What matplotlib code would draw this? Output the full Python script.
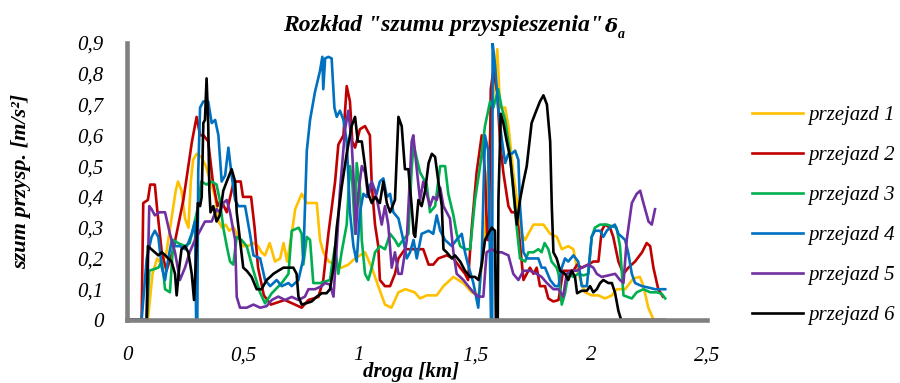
import matplotlib
matplotlib.use("Agg")
import matplotlib.pyplot as plt
from matplotlib.ticker import FixedLocator

plt.rcParams['font.family'] = ['Liberation Serif', 'DejaVu Serif']

title_main = 'Rozkład "szumu przyspieszenia"'
title_sym = 'δ'
title_sub = 'a'
xlabel = 'droga [km]'
ylabel = 'szum przysp. [m/s²]'
labels = ['przejazd 1', 'przejazd 2', 'przejazd 3', 'przejazd 4', 'przejazd 5', 'przejazd 6']
colors = ['#FFC000', '#C00000', '#00B050', '#0070C0', '#7030A0', '#000000']
xticks = [0, 0.5, 1, 1.5, 2, 2.5]
xticklabels = ['0', '0,5', '1', '1,5', '2', '2,5']
yticks = [0, 0.1, 0.2, 0.3, 0.4, 0.5, 0.6, 0.7, 0.8, 0.9]
yticklabels = ['0', '0,1', '0,2', '0,3', '0,4', '0,5', '0,6', '0,7', '0,8', '0,9']

x1 = [0, 0.09, 0.11, 0.13, 0.15, 0.17, 0.19, 0.21, 0.22, 0.235, 0.25, 0.265, 0.275, 0.285, 0.3, 0.32, 0.34, 0.36, 0.38, 0.395, 0.41, 0.425, 0.44, 0.46, 0.48, 0.5, 0.52, 0.545, 0.565, 0.58, 0.595, 0.615, 0.638, 0.66, 0.675, 0.69, 0.71, 0.725, 0.753, 0.775, 0.8, 0.818, 0.832, 0.846, 0.87, 0.925, 0.954, 0.983, 1.026, 1.055, 1.083, 1.112, 1.14, 1.17, 1.2, 1.24, 1.263, 1.292, 1.335, 1.364, 1.407, 1.45, 1.486, 1.515, 1.54, 1.565, 1.596, 1.608, 1.63, 1.644, 1.665, 1.687, 1.7, 1.716, 1.73, 1.752, 1.795, 1.824, 1.853, 1.874, 1.902, 1.924, 1.945, 1.974, 2.003, 2.032, 2.06, 2.09, 2.11, 2.147, 2.183, 2.211, 2.226, 2.247, 2.27, 2.28]
y1 = [0, 0, 0.15, 0.2, 0.18, 0.22, 0.32, 0.42, 0.45, 0.42, 0.33, 0.3, 0.45, 0.52, 0.54, 0.53, 0.5, 0.45, 0.4, 0.32, 0.3, 0.31, 0.29, 0.3, 0.27, 0.24, 0.24, 0.25, 0.24, 0.22, 0.21, 0.25, 0.19, 0.2, 0.25, 0.19, 0.28, 0.36, 0.41, 0.38, 0.38, 0.38, 0.26, 0.22, 0.19, 0.17, 0.18, 0.2, 0.22, 0.17, 0.11, 0.05, 0.04, 0.09, 0.1, 0.09, 0.07, 0.08, 0.08, 0.11, 0.14, 0.12, 0.09, 0.08, 0.25, 0.6, 0.88, 0.69, 0.69, 0.63, 0.48, 0.35, 0.28, 0.26, 0.28, 0.31, 0.31, 0.28, 0.27, 0.23, 0.24, 0.23, 0.15, 0.09, 0.08, 0.08, 0.07, 0.08, 0.1, 0.1, 0.135, 0.14, 0.11, 0.04, 0.0, 0.0]

x2 = [0, 0.063, 0.07, 0.09, 0.1, 0.12, 0.13, 0.15, 0.17, 0.2, 0.243, 0.28, 0.3, 0.315, 0.33, 0.35, 0.37, 0.39, 0.405, 0.43, 0.46, 0.49, 0.5, 0.535, 0.55, 0.565, 0.59, 0.62, 0.68, 0.724, 0.753, 0.782, 0.825, 0.846, 0.868, 0.897, 0.911, 0.933, 0.947, 0.961, 0.971, 0.983, 1.004, 1.026, 1.047, 1.055, 1.069, 1.083, 1.09, 1.112, 1.134, 1.155, 1.17, 1.198, 1.22, 1.249, 1.277, 1.3, 1.32, 1.342, 1.378, 1.407, 1.436, 1.457, 1.47, 1.486, 1.507, 1.529, 1.543, 1.553, 1.56, 1.568, 1.579, 1.596, 1.608, 1.622, 1.644, 1.658, 1.673, 1.687, 1.709, 1.723, 1.737, 1.752, 1.766, 1.78, 1.802, 1.816, 1.838, 1.86, 1.88, 1.924, 1.94, 1.96, 1.989, 2.01, 2.032, 2.046, 2.06, 2.082, 2.096, 2.118, 2.14, 2.161, 2.19, 2.22, 2.24, 2.255, 2.269, 2.29, 2.31]
y2 = [0, 0, 0.38, 0.39, 0.44, 0.44, 0.36, 0.22, 0.16, 0.23, 0.39, 0.58, 0.66, 0.6, 0.6, 0.58, 0.45, 0.37, 0.39, 0.35, 0.45, 0.45, 0.4, 0.4, 0.3, 0.17, 0.08, 0.05, 0.065, 0.05, 0.04, 0.065, 0.075, 0.13, 0.28, 0.45, 0.57, 0.6, 0.76, 0.71, 0.58, 0.56, 0.62, 0.63, 0.6, 0.44, 0.31, 0.24, 0.13, 0.11, 0.11, 0.15, 0.2, 0.23, 0.23, 0.23, 0.23, 0.18, 0.18, 0.2, 0.21, 0.2, 0.17, 0.15, 0.13, 0.3, 0.48, 0.6, 0.48, 0.26, 0.26, 0.75, 0.81, 0.74, 0.58, 0.48, 0.37, 0.35, 0.35, 0.3, 0.13, 0.15, 0.17, 0.15, 0.17, 0.11, 0.11, 0.07, 0.06, 0.065, 0.16, 0.16, 0.18, 0.17, 0.18, 0.19, 0.19, 0.29, 0.31, 0.3, 0.27, 0.19, 0.15, 0.17, 0.19, 0.22, 0.25, 0.24, 0.17, 0.1, 0.076]

x3 = [0, 0.085, 0.096, 0.115, 0.135, 0.15, 0.157, 0.164, 0.185, 0.2, 0.22, 0.25, 0.27, 0.286, 0.307, 0.32, 0.343, 0.365, 0.386, 0.4, 0.415, 0.43, 0.444, 0.458, 0.473, 0.494, 0.516, 0.545, 0.573, 0.595, 0.624, 0.667, 0.696, 0.71, 0.74, 0.753, 0.76, 0.775, 0.789, 0.803, 0.832, 0.875, 0.882, 0.897, 0.911, 0.925, 0.947, 0.961, 0.971, 0.983, 0.99, 1.004, 1.012, 1.026, 1.04, 1.055, 1.069, 1.09, 1.112, 1.134, 1.155, 1.17, 1.19, 1.213, 1.227, 1.235, 1.263, 1.292, 1.306, 1.328, 1.35, 1.371, 1.385, 1.407, 1.421, 1.436, 1.457, 1.479, 1.5, 1.522, 1.543, 1.565, 1.579, 1.6, 1.615, 1.63, 1.651, 1.665, 1.68, 1.694, 1.716, 1.73, 1.752, 1.773, 1.787, 1.8, 1.816, 1.83, 1.852, 1.86, 1.874, 1.888, 1.902, 1.924, 1.945, 1.967, 1.989, 2.003, 2.017, 2.039, 2.068, 2.11, 2.125, 2.14, 2.154, 2.176, 2.197, 2.226, 2.255, 2.284, 2.305, 2.32]
y3 = [0, 0, 0.16, 0.165, 0.17, 0.19, 0.15, 0.1, 0.09, 0.26, 0.25, 0.24, 0.25, 0.3, 0.37, 0.45, 0.44, 0.45, 0.44, 0.39, 0.3, 0.24, 0.19, 0.18, 0.27, 0.26, 0.24, 0.16, 0.09, 0.054, 0.087, 0.12, 0.15, 0.29, 0.3, 0.28, 0.18, 0.27, 0.26, 0.12, 0.12, 0.13, 0.17, 0.24, 0.15, 0.22, 0.31, 0.5, 0.45, 0.28, 0.51, 0.43, 0.26, 0.15, 0.13, 0.17, 0.22, 0.24, 0.23, 0.28, 0.26, 0.24, 0.26, 0.28, 0.49, 0.57, 0.48, 0.44, 0.35, 0.37, 0.5, 0.5, 0.41, 0.34, 0.28, 0.24, 0.23, 0.23, 0.39, 0.5, 0.63, 0.71, 0.69, 0.75, 0.69, 0.65, 0.54, 0.42, 0.3, 0.2, 0.19, 0.22, 0.22, 0.23, 0.22, 0.25, 0.23, 0.19, 0.17, 0.15, 0.05, 0.087, 0.15, 0.14, 0.15, 0.145, 0.15, 0.27, 0.3, 0.31, 0.31, 0.3, 0.24, 0.08, 0.076, 0.07, 0.09, 0.1, 0.09, 0.09, 0.085, 0.07]

x4 = [0, 0.063, 0.085, 0.106, 0.12, 0.135, 0.15, 0.164, 0.178, 0.193, 0.207, 0.228, 0.25, 0.264, 0.279, 0.293, 0.298, 0.303, 0.307, 0.315, 0.329, 0.35, 0.365, 0.38, 0.394, 0.408, 0.423, 0.437, 0.451, 0.466, 0.48, 0.509, 0.53, 0.545, 0.574, 0.595, 0.617, 0.645, 0.667, 0.696, 0.71, 0.739, 0.76, 0.775, 0.789, 0.81, 0.832, 0.842, 0.846, 0.854, 0.868, 0.882, 0.894, 0.904, 0.918, 0.933, 0.947, 0.961, 0.976, 0.99, 1.004, 1.019, 1.033, 1.047, 1.062, 1.076, 1.09, 1.105, 1.12, 1.134, 1.148, 1.17, 1.191, 1.206, 1.22, 1.235, 1.249, 1.27, 1.3, 1.32, 1.335, 1.35, 1.371, 1.4, 1.42, 1.443, 1.457, 1.47, 1.493, 1.514, 1.529, 1.543, 1.557, 1.569, 1.574, 1.576, 1.586, 1.6, 1.615, 1.63, 1.644, 1.658, 1.673, 1.687, 1.694, 1.709, 1.724, 1.752, 1.773, 1.787, 1.802, 1.824, 1.845, 1.86, 1.874, 1.888, 1.902, 1.924, 1.945, 1.96, 1.982, 2.003, 2.017, 2.039, 2.053, 2.068, 2.082, 2.103, 2.118, 2.133, 2.147, 2.16, 2.176, 2.19, 2.22, 2.25, 2.276, 2.3, 2.32]
y4 = [0, 0, 0.2, 0.27, 0.29, 0.27, 0.17, 0.13, 0.2, 0.26, 0.24, 0.24, 0.23, 0.25, 0.28, 0.32, 0.0, 0.0, 0.48, 0.69, 0.71, 0.71, 0.64, 0.65, 0.6, 0.45, 0.47, 0.56, 0.47, 0.39, 0.37, 0.37, 0.28, 0.21, 0.2, 0.13, 0.11, 0.13, 0.11, 0.12, 0.11, 0.13, 0.2, 0.55, 0.65, 0.74, 0.81, 0.855, 0.75, 0.85, 0.855, 0.85, 0.69, 0.66, 0.68, 0.65, 0.58, 0.35, 0.24, 0.19, 0.35, 0.41, 0.4, 0.44, 0.43, 0.41, 0.45, 0.46, 0.4, 0.41, 0.35, 0.33, 0.26, 0.2, 0.22, 0.26, 0.2, 0.28, 0.29, 0.28, 0.34, 0.29, 0.26, 0.24, 0.26, 0.28, 0.22, 0.18, 0.12, 0.04, 0.2, 0.6, 0.55, 0.0, 0.0, 0.9, 0.83, 0.69, 0.59, 0.51, 0.54, 0.54, 0.55, 0.52, 0.37, 0.22, 0.2, 0.2, 0.2, 0.17, 0.17, 0.13, 0.11, 0.11, 0.17, 0.2, 0.19, 0.21, 0.19, 0.11, 0.11, 0.27, 0.29, 0.29, 0.27, 0.29, 0.3, 0.31, 0.28, 0.27, 0.26, 0.22, 0.15, 0.12, 0.11, 0.105, 0.1, 0.1, 0.1]

x5 = [0, 0.085, 0.096, 0.106, 0.12, 0.14, 0.164, 0.185, 0.207, 0.228, 0.25, 0.27, 0.293, 0.315, 0.336, 0.365, 0.386, 0.4, 0.415, 0.43, 0.444, 0.466, 0.473, 0.487, 0.516, 0.545, 0.574, 0.602, 0.624, 0.652, 0.681, 0.71, 0.739, 0.767, 0.782, 0.81, 0.839, 0.853, 0.875, 0.89, 0.904, 0.918, 0.94, 0.954, 0.968, 0.976, 0.986, 0.997, 1.012, 1.026, 1.04, 1.055, 1.069, 1.083, 1.098, 1.112, 1.126, 1.141, 1.155, 1.17, 1.184, 1.206, 1.227, 1.234, 1.249, 1.263, 1.277, 1.292, 1.306, 1.32, 1.335, 1.35, 1.364, 1.378, 1.392, 1.407, 1.421, 1.436, 1.45, 1.471, 1.493, 1.514, 1.536, 1.55, 1.572, 1.594, 1.615, 1.644, 1.665, 1.687, 1.709, 1.737, 1.766, 1.787, 1.81, 1.838, 1.86, 1.88, 1.895, 1.917, 1.938, 1.96, 1.989, 2.01, 2.025, 2.046, 2.075, 2.104, 2.125, 2.14, 2.154, 2.176, 2.197, 2.212, 2.226, 2.248, 2.262, 2.276]
y5 = [0, 0, 0.37, 0.36, 0.34, 0.35, 0.35, 0.28, 0.22, 0.13, 0.17, 0.22, 0.26, 0.29, 0.32, 0.32, 0.36, 0.35, 0.38, 0.39, 0.35, 0.26, 0.075, 0.04, 0.04, 0.05, 0.04, 0.045, 0.065, 0.076, 0.065, 0.075, 0.065, 0.076, 0.1, 0.1, 0.11, 0.12, 0.115, 0.076, 0.24, 0.42, 0.62, 0.68, 0.58, 0.47, 0.28, 0.41, 0.5, 0.48, 0.4, 0.45, 0.42, 0.37, 0.31, 0.37, 0.31, 0.17, 0.22, 0.15, 0.15, 0.26, 0.58, 0.6, 0.49, 0.39, 0.45, 0.41, 0.37, 0.4, 0.39, 0.43, 0.37, 0.35, 0.33, 0.22, 0.15, 0.14, 0.13, 0.11, 0.09, 0.076, 0.076, 0.22, 0.23, 0.22, 0.22, 0.21, 0.15, 0.13, 0.16, 0.16, 0.15, 0.14, 0.12, 0.1, 0.1, 0.076, 0.15, 0.16, 0.16, 0.17, 0.18, 0.17, 0.15, 0.14, 0.145, 0.15, 0.13, 0.12, 0.26, 0.38, 0.41, 0.42, 0.38, 0.32, 0.31, 0.36]

x6 = [0, 0.085, 0.09, 0.105, 0.12, 0.135, 0.15, 0.165, 0.178, 0.192, 0.207, 0.214, 0.225, 0.235, 0.25, 0.264, 0.279, 0.289, 0.3, 0.305, 0.315, 0.322, 0.329, 0.336, 0.343, 0.35, 0.355, 0.36, 0.372, 0.386, 0.4, 0.415, 0.43, 0.451, 0.466, 0.473, 0.487, 0.501, 0.516, 0.537, 0.559, 0.58, 0.602, 0.617, 0.631, 0.652, 0.674, 0.695, 0.717, 0.731, 0.739, 0.753, 0.775, 0.796, 0.818, 0.84, 0.86, 0.875, 0.89, 0.904, 0.925, 0.947, 0.968, 0.983, 0.995, 1.012, 1.026, 1.04, 1.055, 1.069, 1.09, 1.105, 1.12, 1.134, 1.155, 1.17, 1.184, 1.198, 1.213, 1.227, 1.236, 1.242, 1.256, 1.27, 1.285, 1.3, 1.314, 1.328, 1.342, 1.357, 1.364, 1.378, 1.4, 1.414, 1.436, 1.457, 1.479, 1.5, 1.515, 1.529, 1.543, 1.557, 1.572, 1.586, 1.59, 1.598, 1.601, 1.611, 1.622, 1.637, 1.651, 1.665, 1.68, 1.694, 1.709, 1.723, 1.744, 1.759, 1.78, 1.795, 1.81, 1.824, 1.831, 1.838, 1.852, 1.867, 1.888, 1.902, 1.917, 1.931, 1.94, 1.96, 1.982, 1.996, 2.01, 2.025, 2.039, 2.053, 2.075, 2.09, 2.104, 2.118, 2.13, 2.32]
y6 = [0, 0, 0.24, 0.23, 0.22, 0.21, 0.22, 0.21, 0.2, 0.19, 0.15, 0.08, 0.17, 0.23, 0.24, 0.22, 0.15, 0.065, 0.24, 0.38, 0.37, 0.4, 0.64, 0.65, 0.785, 0.64, 0.42, 0.35, 0.37, 0.32, 0.34, 0.42, 0.45, 0.49, 0.45, 0.35, 0.26, 0.17, 0.16, 0.14, 0.1, 0.1, 0.13, 0.14, 0.15, 0.16, 0.17, 0.17, 0.17, 0.15, 0.076, 0.05, 0.055, 0.06, 0.076, 0.087, 0.087, 0.1, 0.17, 0.3, 0.43, 0.54, 0.63, 0.66, 0.58, 0.58, 0.5, 0.41, 0.38, 0.4, 0.38, 0.45, 0.38, 0.35, 0.39, 0.66, 0.63, 0.49, 0.49, 0.37, 0.28, 0.27, 0.39, 0.37, 0.42, 0.51, 0.54, 0.53, 0.45, 0.37, 0.23, 0.22, 0.2, 0.21, 0.19, 0.16, 0.14, 0.14, 0.13, 0.18, 0.26, 0.28, 0.3, 0.29, 0.0, 0.0, 0.39, 0.67, 0.64, 0.58, 0.53, 0.43, 0.31, 0.39, 0.45, 0.5, 0.64, 0.67, 0.71, 0.73, 0.7, 0.58, 0.37, 0.22, 0.2, 0.16, 0.15, 0.13, 0.16, 0.14, 0.087, 0.095, 0.095, 0.11, 0.09, 0.1, 0.12, 0.13, 0.12, 0.12, 0.087, 0.03, 0.0, 0.0]

xs = [x1, x2, x3, x4, x5, x6]
ys = [y1, y2, y3, y4, y5, y6]

W, H = 900, 383
fig = plt.figure(figsize=(9, 3.83), dpi=100)
ax = fig.add_axes([127 / W, 1 - 320 / H, 580 / W, 277 / H])

for xv, yv, c, lab in zip(xs, ys, colors, labels):
    ax.plot(xv, yv, color=c, lw=1.9, label=lab, solid_joinstyle='round')

ax.set_xlim(0, 2.5)
ax.set_ylim(0, 0.9)
ax.xaxis.set_major_locator(FixedLocator(xticks))
ax.yaxis.set_major_locator(FixedLocator(yticks))
ax.set_xticklabels(xticklabels)
ax.set_yticklabels(yticklabels)
ax.tick_params(axis='both', length=0, labelsize=15)
ax.tick_params(axis='x', pad=19)
ax.tick_params(axis='y', pad=17)
for t in ax.get_xticklabels() + ax.get_yticklabels():
    t.set_fontstyle('italic')

for s in ['top', 'right']:
    ax.spines[s].set_visible(False)
for s in ['left', 'bottom']:
    ax.spines[s].set_color('#808080')
    ax.spines[s].set_linewidth(3.3)

# axis titles
fig.text(411 / W, 1 - 377 / H, xlabel, fontsize=15, fontweight='bold', fontstyle='italic',
         ha='center', va='baseline')
ax.set_ylabel(ylabel, fontsize=16, fontweight='bold', fontstyle='italic')
ax.yaxis.set_label_coords(-0.166, 0.5)

# title with bold italic delta and subscript a
fig.text(603 / W, 1 - 31 / H, title_main, fontsize=17, fontweight='bold',
         fontstyle='italic', ha='right', va='baseline')
fig.text(604 / W, 1 - 32 / H, title_sym, fontsize=14, fontweight='bold',
         fontstyle='italic', family='DejaVu Serif', ha='left', va='baseline')
fig.text(618 / W, 1 - 38 / H, title_sub, fontsize=10, fontweight='bold',
         fontstyle='italic', ha='left', va='baseline')

leg = fig.legend(loc='center left', bbox_to_anchor=(752 / W, 1 - 215.5 / H), frameon=False,
                 prop={'family': 'Liberation Serif', 'style': 'italic', 'size': 15},
                 handlelength=2.45, handletextpad=0.25, labelspacing=0.98,
                 borderpad=0, borderaxespad=0)

fig.savefig('out.png', dpi=100)
